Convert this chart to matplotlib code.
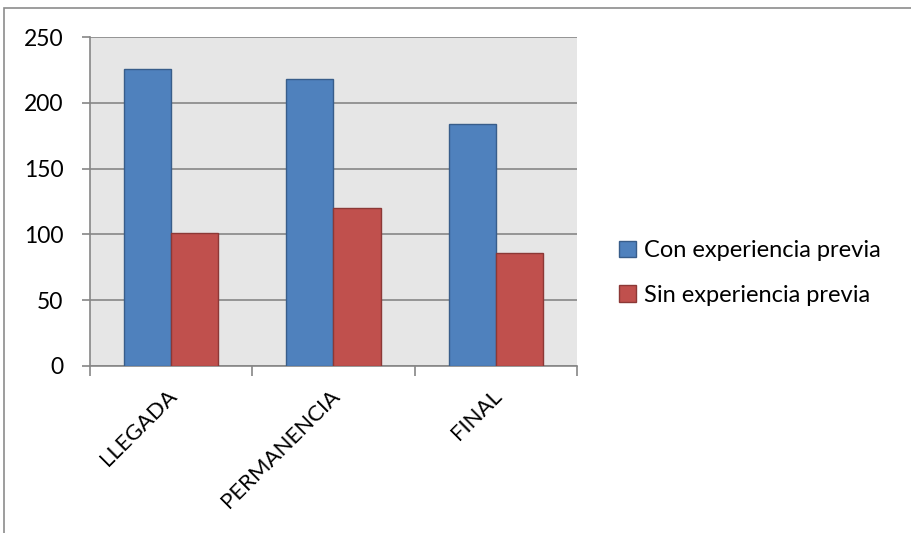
import matplotlib
matplotlib.use("Agg")
import matplotlib.pyplot as plt
import matplotlib.transforms as mtransforms
import numpy as np
from matplotlib.patches import Rectangle

plt.rcParams['font.family'] = ['Lato', 'DejaVu Sans']

categories = ["LLEGADA", "PERMANENCIA", "FINAL"]
con_experiencia = [226, 218, 184]
sin_experiencia = [101, 120, 86]
series_names = ["Con experiencia previa", "Sin experiencia previa"]

fig = plt.figure(figsize=(9.12, 5.33), dpi=100)

# outer chart frame (cut off on the right and bottom)
fig.patches.append(Rectangle((4 / 912, -0.1), 1.2, (533 - 8) / 533 + 0.1,
                             transform=fig.transFigure, fill=False,
                             edgecolor="#8c8c8c", linewidth=1.2))

ax = fig.add_axes([90 / 912, (533 - 366) / 533, (577 - 90) / 912, (366 - 37) / 533])
ax.set_facecolor("#e6e6e6")

x = np.arange(len(categories))
w = 0.29
b1 = ax.bar(x - w / 2, con_experiencia, w, color="#4f81bd", edgecolor="#385d8a",
            linewidth=1, label=series_names[0], zorder=3)
b2 = ax.bar(x + w / 2, sin_experiencia, w, color="#c0504d", edgecolor="#8c3836",
            linewidth=1, label=series_names[1], zorder=3)

ax.set_xlim(-0.5, len(categories) - 0.5)
ax.set_ylim(0, 250)
ax.set_yticks(np.arange(0, 251, 50))
ax.yaxis.grid(True, color="#868686", linewidth=1.2, zorder=1)
ax.set_axisbelow(True)

ax.set_xticks(np.arange(-0.5, len(categories), 1))
ax.set_xticklabels([])
ax.tick_params(axis="x", which="major", length=7, color="#868686", width=1.2)
ax.tick_params(axis="y", length=6, color="#868686", width=1.2, labelsize=16.5, pad=13)

# rotated category labels, top-right end just below the category centre
offset = mtransforms.ScaledTranslation(-4 / 100, -20 / 100, fig.dpi_scale_trans)
trans = ax.get_xaxis_transform() + offset
for xi, name in zip(x, categories):
    ax.text(xi, 0, name, transform=trans, rotation=45, ha="right", va="top",
            rotation_mode="anchor", fontsize=16)

for side in ["top", "right"]:
    ax.spines[side].set_visible(False)
for side in ["left", "bottom"]:
    ax.spines[side].set_color("#868686")
    ax.spines[side].set_linewidth(1.2)

fig.legend(handles=[b1, b2], loc="center left", bbox_to_anchor=(598 / 912, (533 - 273) / 533),
           frameon=False, fontsize=17, handlelength=0.7, handleheight=0.7,
           handletextpad=0.35, labelspacing=1.0)

fig.savefig("out.png", dpi=100)
